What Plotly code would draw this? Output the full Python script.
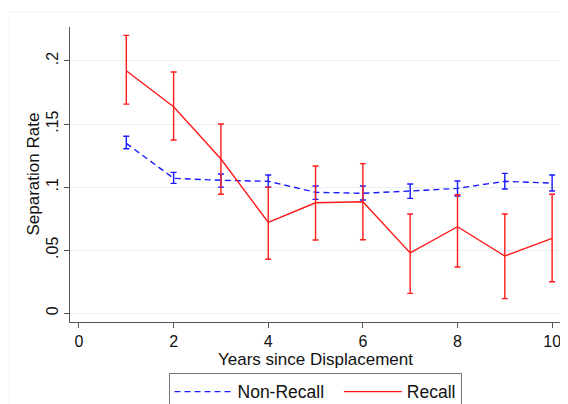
import plotly.graph_objects as go

years = [1, 2, 3, 4, 5, 6, 7, 8, 9, 10]

recall = [0.1922, 0.1637, 0.1223, 0.0721, 0.0876, 0.0884, 0.0478, 0.0686, 0.0454, 0.0594]
recall_hi = [0.2203, 0.1912, 0.1500, 0.1000, 0.1167, 0.1186, 0.0787, 0.0940, 0.0787, 0.0943]
recall_lo = [0.1658, 0.1373, 0.0943, 0.0428, 0.0581, 0.0583, 0.0158, 0.0367, 0.0116, 0.0250]

nonrecall = [0.1347, 0.1070, 0.1054, 0.1046, 0.0959, 0.0951, 0.0969, 0.0990, 0.1046, 0.1032]
nonrecall_hi = [0.1403, 0.1117, 0.1104, 0.1096, 0.1009, 0.1009, 0.1025, 0.1048, 0.1109, 0.1096]
nonrecall_lo = [0.1304, 0.1030, 0.1000, 0.1000, 0.0903, 0.0898, 0.0911, 0.0930, 0.0985, 0.0969]

x_ticks = [0, 2, 4, 6, 8, 10]
y_ticks = [0, 0.05, 0.1, 0.15, 0.2]
y_tick_labels = ["0", ".05", ".1", ".15", ".2"]
x_title = "Years since Displacement"
y_title = "Separation Rate"
series_names = ["Non-Recall", "Recall"]

FONT = "Liberation Sans, Arial, sans-serif"
RED = "#ff1a1a"
BLUE = "#1a1aff"
FS = 17
FS_TICK = 16
PAD = "\u00a0\u00a0"

fig = go.Figure()

fig.add_trace(go.Scatter(
    x=years, y=nonrecall, mode="lines", name=series_names[0] + PAD,
    line=dict(color=BLUE, width=1.4, dash="6px,4px"),
    error_y=dict(type="data", symmetric=False,
                 array=[h - v for h, v in zip(nonrecall_hi, nonrecall)],
                 arrayminus=[v - l for v, l in zip(nonrecall, nonrecall_lo)],
                 color=BLUE, thickness=1.4, width=3),
))
fig.add_trace(go.Scatter(
    x=years, y=recall, mode="lines", name=series_names[1],
    line=dict(color=RED, width=1.4),
    error_y=dict(type="data", symmetric=False,
                 array=[h - v for h, v in zip(recall_hi, recall)],
                 arrayminus=[v - l for v, l in zip(recall, recall_lo)],
                 color=RED, thickness=1.4, width=3),
))

fig.add_shape(type="rect", xref="paper", yref="paper",
              x0=-0.1258, x1=1.02, y0=-0.35, y1=1.0508,
              line=dict(color="#eef2f2", width=1), fillcolor="rgba(0,0,0,0)",
              layer="below")

fig.add_annotation(text=x_title, xref="paper", yref="paper", x=0.498, y=-0.127,
                   xanchor="center", yanchor="middle", showarrow=False,
                   font=dict(size=FS, family=FONT, color="#111111"))
fig.add_annotation(text=y_title, xref="paper", yref="paper", x=-0.075, y=0.5,
                   xanchor="center", yanchor="middle", showarrow=False, textangle=-90,
                   font=dict(size=FS, family=FONT, color="#111111"))

fig.update_layout(
    width=560, height=396,
    margin=dict(l=62, r=5, t=19, b=82, autoexpand=False),
    paper_bgcolor="white", plot_bgcolor="white",
    font=dict(family=FONT, size=FS, color="#111111"),
    showlegend=True,
    legend=dict(orientation="h", x=0.497, xanchor="center", y=-0.172, yanchor="top",
                bordercolor="#777777", borderwidth=1, bgcolor="white",
                font=dict(size=17.5), itemwidth=58, tracegroupgap=0),
    xaxis=dict(range=[-0.19, 10.23], tickvals=x_ticks, ticks="outside", ticklen=5,
               tickfont=dict(size=FS_TICK),
               tickcolor="#555555", showline=True, linecolor="#555555", linewidth=1,
               showgrid=False, zeroline=False),
    yaxis=dict(range=[-0.0069, 0.2269], tickvals=y_ticks, ticktext=y_tick_labels,
               tickfont=dict(size=FS_TICK),
               tickangle=-90, ticks="outside", ticklen=5, tickcolor="#555555",
               showline=True, linecolor="#555555", linewidth=1,
               showgrid=True, gridcolor="#e8f0f0", gridwidth=1, zeroline=False),
)

fig.write_html("out.html")
